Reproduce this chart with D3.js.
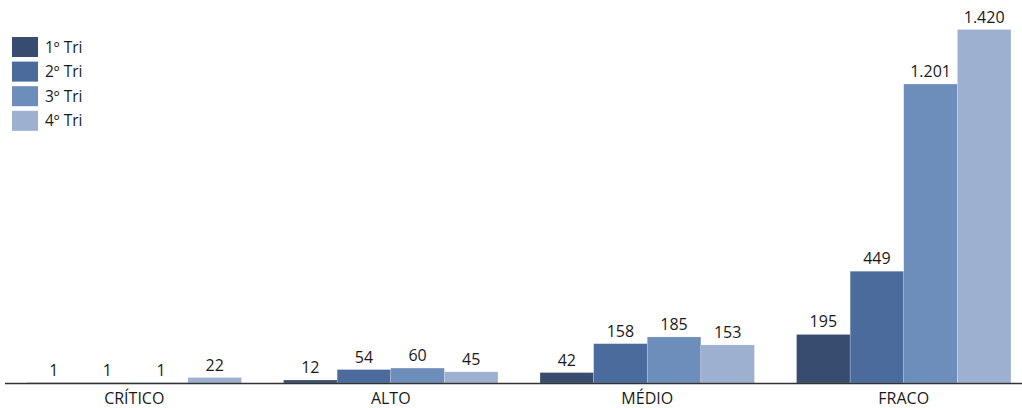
<!DOCTYPE html>
<html>
<head>
<meta charset="utf-8">
<script src="https://cdn.jsdelivr.net/npm/d3@7"></script>
<style>
  html, body { margin: 0; padding: 0; background: #fff; }
  svg { display: block; font-family: "Open Sans", "Noto Sans", sans-serif; }
</style>
</head>
<body>
<svg id="chart" width="1022" height="408"></svg>
<script>
// Risk levels on the category axis
const categories = ["CRÍTICO", "ALTO", "MÉDIO", "FRACO"];
// Quarters shown as series
const seriesNames = ["1º Tri", "2º Tri", "3º Tri", "4º Tri"];
// Counts per quarter, in category order
const tri1 = [1, 12, 42, 195];
const tri2 = [1, 54, 158, 449];
const tri3 = [1, 60, 185, 1201];
const tri4 = [22, 45, 153, 1420];
const seriesValues = [tri1, tri2, tri3, tri4];
const seriesColors = ["#374c6e", "#4a6b9c", "#6d8dba", "#9eb0cf"];

const svg = d3.select("#chart");
const baseY = 383;

const x0 = d3.scaleBand()
  .domain(categories)
  .range([6, 1032])
  .paddingInner(0.164)
  .paddingOuter(0.082);

const x1 = d3.scaleBand()
  .domain(seriesNames)
  .range([0, x0.bandwidth()])
  .padding(0);

const y = d3.scaleLinear()
  .domain([0, 1420])
  .range([baseY, 29.5]);

const fmt = v => d3.format(",")(v).replace(/,/g, ".");

const rows = categories.map((c, i) => ({
  cat: c,
  vals: seriesNames.map((s, j) => ({ s, j, v: seriesValues[j][i] }))
}));

const groups = svg.append("g").selectAll("g")
  .data(rows)
  .join("g")
  .attr("transform", d => `translate(${x0(d.cat)},0)`);

groups.selectAll("rect")
  .data(d => d.vals)
  .join("rect")
  .attr("x", d => x1(d.s))
  .attr("width", x1.bandwidth())
  .attr("y", d => y(d.v))
  .attr("height", d => baseY - y(d.v))
  .attr("fill", d => seriesColors[d.j])
  .attr("stroke", "#ffffff")
  .attr("stroke-opacity", 0.35)
  .attr("stroke-width", 0.6);

groups.selectAll("text")
  .data(d => d.vals)
  .join("text")
  .attr("x", d => x1(d.s) + x1.bandwidth() / 2)
  .attr("y", d => y(d.v) - 7)
  .attr("text-anchor", "middle")
  .attr("font-size", 16)
  .attr("fill", "#1a1a1a")
  .text(d => fmt(d.v));

// Category axis
const axis = svg.append("g")
  .attr("transform", `translate(0,${baseY})`)
  .call(d3.axisBottom(x0).tickSize(0));
axis.select(".domain")
  .attr("d", "M5,0.5H1022")
  .attr("stroke", "#333")
  .attr("stroke-width", 1.6);
axis.selectAll("text")
  .attr("y", 21)
  .attr("dy", 0)
  .attr("font-size", 16)
  .attr("font-family", "\"Open Sans\", \"Noto Sans\", sans-serif")
  .attr("fill", "#1a1a1a");

// Legend
const legend = svg.append("g").attr("transform", "translate(12,37)");
const item = legend.selectAll("g")
  .data(seriesNames)
  .join("g")
  .attr("transform", (d, i) => `translate(0,${i * 24.6})`);
item.append("rect")
  .attr("width", 26)
  .attr("height", 20)
  .attr("fill", (d, i) => seriesColors[i]);
item.append("text")
  .attr("x", 33)
  .attr("y", 15.5)
  .attr("font-size", 15.5)
  .attr("fill", "#1a1a1a")
  .text(d => d);
</script>
</body>
</html>
